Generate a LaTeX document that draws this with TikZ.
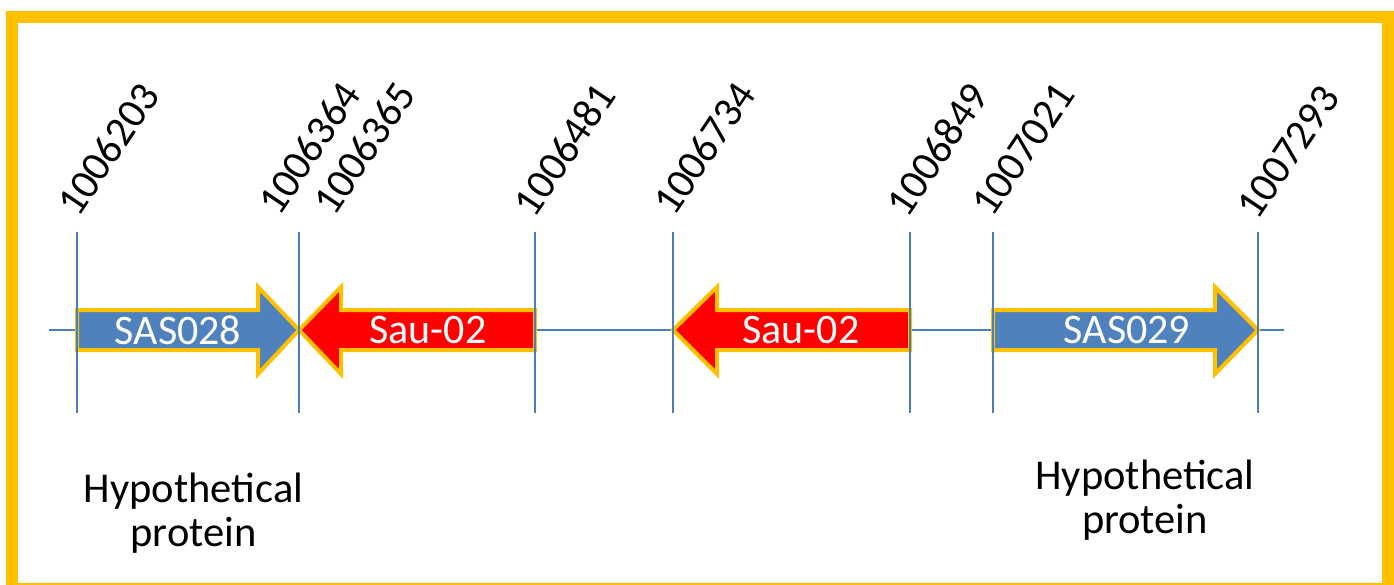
\documentclass[tikz,border=0pt]{standalone}
\usepackage{fontspec}
\setmainfont{Carlito}
\definecolor{gold}{HTML}{FFC000}
\definecolor{lineblue}{HTML}{4A7EBB}
\definecolor{geneblue}{HTML}{4F81BD}
\definecolor{genered}{HTML}{FF0000}
\begin{document}
\begin{tikzpicture}[x=1pt,y=-1pt,
  frame/.style={draw=gold,line width=12pt},
  axis/.style={draw=lineblue,line width=1.6pt},
  gene/.style={draw=gold,line width=4pt,line join=miter},
  poslabel/.style={rotate=56,anchor=west,inner sep=0pt,font=\fontsize{42}{42}\selectfont},
  genelabel/.style={text=white,inner sep=0pt,font=\fontsize{42}{42}\selectfont},
  note/.style={align=center,inner sep=0pt,font=\fontsize{42.5}{44}\selectfont}]
\useasboundingbox (0,0) rectangle (1394,585);
\begin{scope}
\clip (0,0) rectangle (1394,585);
\draw[frame] (12,17) rectangle (1387.5,589);
\end{scope}
% main line
\coordinate (L) at (49,330);
\coordinate (R) at (1284,330);
\draw[axis] (L) -- (R);
% vertical marks
\foreach \n/\x in {a/77,b/299,c/535,d/673,e/910,f/993,g/1258}{
  \coordinate (\n top) at (\x,232);
  \coordinate (\n bot) at (\x,413);
}
% genes
\filldraw[gene,fill=geneblue] (77,310) -- (258,310) -- (258,287) -- (299,330) -- (258,374) -- (258,350) -- (77,350) -- cycle;
\filldraw[gene,fill=genered] (535,310) -- (341,310) -- (341,287) -- (299,330) -- (341,374) -- (341,350) -- (535,350) -- cycle;
\filldraw[gene,fill=genered] (910,310) -- (717,310) -- (717,287) -- (673,330) -- (717,374) -- (717,350) -- (910,350) -- cycle;
\filldraw[gene,fill=geneblue] (993,310) -- (1215,310) -- (1215,287) -- (1258,330) -- (1215,374) -- (1215,350) -- (993,350) -- cycle;
\foreach \n in {a,b,c,d,e,f,g}{\draw[axis] (\n top) -- (\n bot);}
\node[genelabel] (g1) at (178,330) {SAS028};
\node[genelabel] (g2) at (428,330) {Sau-02};
\node[genelabel] (g3) at (801,330) {Sau-02};
\node[genelabel] (g4) at (1127,330) {SAS029};
% position labels
\node[poslabel] (p1) at (66.4,211.3) {1006203};
\node[poslabel] (p2) at (267.4,210.3) {1006364};
\node[poslabel] (p3) at (322.4,210.3) {1006365};
\node[poslabel] (p4) at (522.4,211.3) {1006481};
\node[poslabel] (p5) at (662.4,210.3) {1006734};
\node[poslabel] (p6) at (895.4,211.3) {1006849};
\node[poslabel] (p7) at (981.4,211.3) {1007021};
\node[poslabel] (p8) at (1246.4,214.3) {1007293};
% notes
\node[note] (h1) at (193.5,513) {Hypothetical\\protein};
\node[note] (h2) at (1145,500) {Hypothetical\\protein};
\end{tikzpicture}
\end{document}
